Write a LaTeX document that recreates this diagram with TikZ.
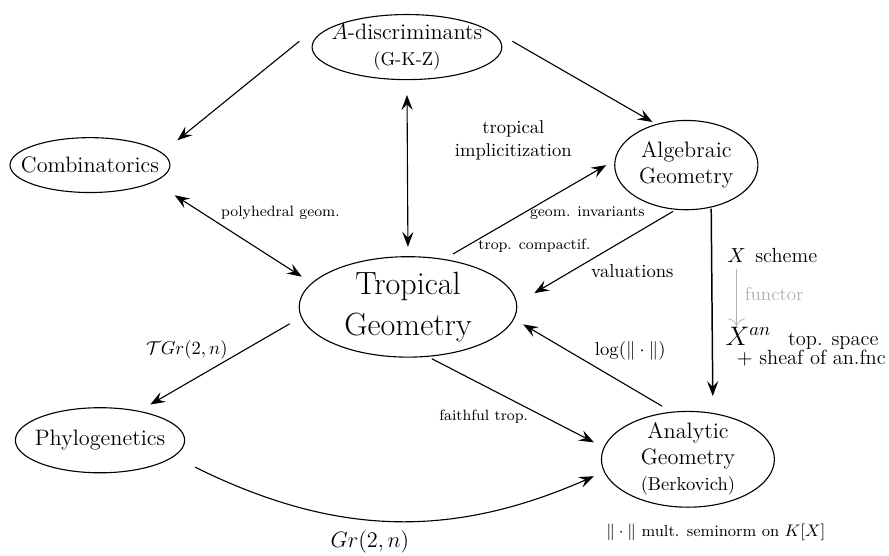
\documentclass[tikz,border=0pt]{standalone}
\usepackage{amsmath}
\usepackage{amssymb}
\usepackage{tikz}
\usetikzlibrary{arrows.meta,positioning,shapes.geometric}

\begin{document}
\begin{tikzpicture}[
	blob/.style={ellipse, draw, semithick, align=center, inner xsep=-10pt, inner ysep=-4pt, font=\large},
	arr/.style={semithick, -{Stealth[length=8pt,width=6pt,inset=3pt]}},
	darr/.style={semithick, {Stealth[length=8pt,width=6pt,inset=3pt]}-{Stealth[length=8pt,width=6pt,inset=3pt]}},
	lbl/.style={font=\footnotesize},
	mid/.style={font=\fontsize{11}{13}\selectfont}]
			\useasboundingbox (0,0) rectangle (16.8,10.49);
			% the six fields
			\node[blob, minimum width=102pt, minimum height=35pt] (adisc) at (7.69,9.60) {$A$-discriminants\\{\normalsize (G-K-Z)}};
			\node[blob, minimum width=86pt, minimum height=29.5pt] (comb) at (1.70,7.37) {Combinatorics};
			\node[blob, minimum width=77pt, minimum height=48pt] (alg) at (12.97,7.37) {Algebraic\\Geometry};
			\node[blob, font=\LARGE, minimum width=117pt, minimum height=54pt] (trop) at (7.71,4.69) {Tropical\\Geometry};
			\node[blob, minimum width=91pt, minimum height=35pt] (phylo) at (1.89,2.17) {Phylogenetics};
			\node[blob, minimum width=93pt, minimum height=51.5pt] (ana) at (13.00,1.81) {Analytic\\Geometry\\{\normalsize (Berkovich)}};
			% arrows
			\draw[arr] ([shift={(-0.23,0.11)}]adisc.west) -- ([shift={(0.13,0.47)}]comb.east);
			\draw[arr] ([shift={(0.19,0.11)}]adisc.east) -- ([shift={(-0.64,-0.04)}]alg.north);
			\draw[darr, shorten <=8pt, shorten >=5pt] (adisc.south) -- (trop.north);
			\draw[darr] ([shift={(0.08,-0.57)}]comb.east) -- ([shift={(0.06,0.57)}]trop.west);
			\draw[arr] ([shift={(0.85,0.04)}]trop.north) -- ([shift={(-0.15,0)}]alg.west);
			\draw[arr] ([shift={(-0.25,-0.02)}]alg.south) -- ([shift={(0.32,0.26)}]trop.east);
			\draw[arr, thick] ([shift={(0.47,0.03)}]alg.south) -- ([shift={(0.47,0.28)}]ana.north);
			\draw[arr] ([shift={(-0.49,0.09)}]ana.north) -- ([shift={(0.11,-0.33)}]trop.east);
			\draw[arr] ([shift={(-0.17,-0.32)}]trop.west) -- ([shift={(0.95,0.05)}]phylo.north);
			\draw[arr] ([shift={(0.45,-0.02)}]trop.south) -- ([shift={(-0.13,0.32)}]ana.west);
			\draw[arr] ([shift={(0.19,-0.51)}]phylo.east) to[bend right=25] ([shift={(-0.13,-0.32)}]ana.west);
			% labels
			\node[align=center] (impl) at (9.70,7.84) {tropical\\implicitization};
			\node[lbl] (poly) at (5.30,6.46) {polyhedral geom.};
			\node[lbl] (inv) at (11.10,6.47) {geom. invariants};
			\node[lbl] (compact) at (10.10,5.84) {trop. compactif.};
			\node (val) at (11.95,5.36) {valuations};
			\node (log) at (11.91,3.86) {$\log(\|\cdot\|)$};
			\node (tgr) at (3.53,3.87) {$\mathcal{T}Gr(2,n)$};
			\node[lbl] (faith) at (9.14,2.62) {faithful trop.};
			\node[font=\large] (gr) at (6.99,0.25) {$Gr(2,n)$};
			\node[font=\fontsize{8.6}{10}\selectfont] (norm) at (13.53,0.43) {$\|\cdot\|$ mult. seminorm on $K[X]$};
			% scheme and analytification
			\node[mid] (xs) at (13.92,5.67) {$X$};
			\node[mid, right=-2pt of xs] (xsl) {scheme};
			\node[anchor=west, font=\Large] (xan) at ([xshift=-1pt]xs.west |- 0,4.14) {$X^{an}$};
			\node[mid, anchor=base west] (top) at ([xshift=2pt]xan.base east) {top. space};
			\node[mid] (sheaf) at (15.33,3.72) {$+$ sheaf of an.fnc};
			\draw[gray!60, -{To[length=4pt,width=9pt]}, shorten >=-3pt] (xs) -- (xs |- xan.north);
			\node[gray!60] (fun) at (14.63,4.93) {functor};
		\end{tikzpicture}
\end{document}
